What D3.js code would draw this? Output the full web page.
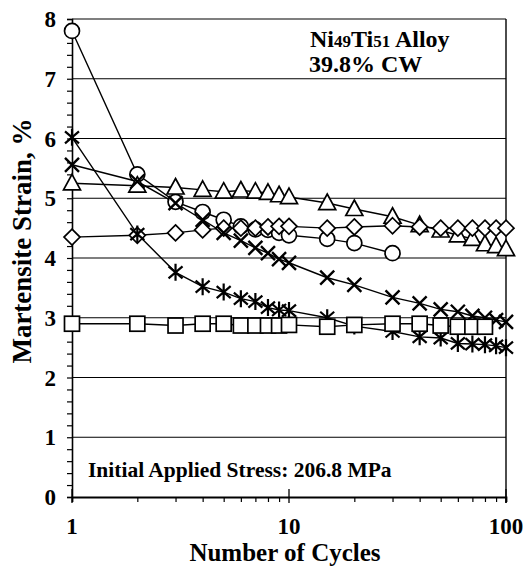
<!DOCTYPE html>
<html><head><meta charset="utf-8">
<script src="https://cdn.jsdelivr.net/npm/d3@7"></script>
<style>body{margin:0;background:#fff}svg{display:block}text{font-family:"Liberation Serif","Times New Roman",serif;font-weight:bold;fill:#000}</style>
</head><body><svg id="c" width="526" height="572"></svg>
<script>
const cycles = [1,2,3,4,5,6,7,8,9,10,15,20,30,40,50,60,70,80,90,100];
const circleCycles = cycles.slice(0,13);
const circleVals = [7.8,5.4,4.94,4.77,4.64,4.53,4.48,4.47,4.42,4.38,4.32,4.25,4.08];
const triangleVals = [5.25,5.21,5.18,5.14,5.11,5.13,5.11,5.09,5.05,5.02,4.92,4.82,4.69,4.55,4.46,4.38,4.32,4.23,4.2,4.15];
const diamondVals = [4.35,4.38,4.42,4.47,4.5,4.5,4.5,4.52,4.53,4.53,4.5,4.52,4.54,4.52,4.5,4.5,4.5,4.5,4.5,4.5];
const crossVals = [5.56,5.28,4.92,4.64,4.42,4.29,4.17,4.08,3.98,3.92,3.67,3.55,3.34,3.24,3.14,3.1,3.03,3.0,2.96,2.93];
const asteriskVals = [6.02,4.4,3.76,3.52,3.43,3.32,3.27,3.17,3.13,3.12,3.0,2.86,2.77,2.68,2.66,2.57,2.56,2.55,2.53,2.5];
const squareCycles = cycles.slice(0,18);
const squareVals = [2.9,2.9,2.87,2.9,2.9,2.87,2.87,2.87,2.87,2.88,2.85,2.88,2.9,2.9,2.87,2.85,2.85,2.85];
const yTicks = [0,1,2,3,4,5,6,7,8];
const xTicks = [1,10,100];

const svg = d3.select("#c");
const x = d3.scaleLog().domain([1,100]).range([72,506]);
const y = d3.scaleLinear().domain([0,8]).range([497,19]);

// gridlines
svg.append("g").selectAll("line").data(yTicks.slice(1)).join("line")
  .attr("x1",x(1)).attr("x2",x(100)).attr("y1",d=>y(d)).attr("y2",d=>y(d))
  .attr("stroke","#000").attr("stroke-width",1.1);

// axes
const yAxis = d3.axisLeft(y).tickValues(d3.range(0,8.01,0.2)).tickSize(5).tickFormat("");
const gy = svg.append("g").attr("transform",`translate(${x(1)},0)`).call(yAxis);
gy.selectAll("line").attr("stroke-width",1.2);
gy.select(".domain").attr("stroke-width",1.6);
svg.append("g").selectAll("text").data(yTicks).join("text")
  .attr("x",56).attr("y",d=>y(d)).attr("dy","0.35em").attr("text-anchor","end")
  .attr("font-size",23).text(d=>d);

const minor = [];
[1,10].forEach(b=>{for(let k=2;k<=9;k++) minor.push(b*k);});
const xAxisMinor = d3.axisBottom(x).tickValues(minor).tickSize(5).tickFormat("");
const gx = svg.append("g").attr("transform",`translate(0,${y(0)})`).call(xAxisMinor);
gx.selectAll("line").attr("stroke-width",1.2);
gx.select(".domain").attr("stroke-width",1.8);
svg.append("g").selectAll("line").data(xTicks).join("line")
  .attr("x1",d=>x(d)).attr("x2",d=>x(d)).attr("y1",y(0)-8).attr("y2",y(0)+6)
  .attr("stroke","#000").attr("stroke-width",1.3);
svg.append("g").selectAll("text").data(xTicks).join("text")
  .attr("x",d=>x(d)).attr("y",534).attr("text-anchor","middle")
  .attr("font-size",23).text(d=>d);
// right border
svg.append("line").attr("x1",x(100)).attr("x2",x(100)).attr("y1",y(8)).attr("y2",y(0)+6)
  .attr("stroke","#000").attr("stroke-width",1.4);

// titles
svg.append("text").attr("x",285).attr("y",561).attr("text-anchor","middle").attr("font-size",25).text("Number of Cycles");
svg.append("text").attr("transform","translate(31,241) rotate(-90)").attr("text-anchor","middle").attr("font-size",27).text("Martensite Strain, %");

const t1 = svg.append("text").attr("x",310).attr("y",47).attr("font-size",24);
t1.append("tspan").text("Ni");
t1.append("tspan").attr("font-size",17).text("49");
t1.append("tspan").text("Ti");
t1.append("tspan").attr("font-size",17).text("51");
t1.append("tspan").text(" Alloy");
svg.append("text").attr("x",309).attr("y",72).attr("font-size",24).text("39.8% CW");
svg.append("text").attr("x",88).attr("y",477).attr("font-size",21.5).text("Initial Applied Stress: 206.8 MPa");

// series
const series = [
  {c:circleCycles, v:circleVals, m:"circle"},
  {c:cycles, v:triangleVals, m:"triangle"},
  {c:cycles, v:diamondVals, m:"diamond"},
  {c:cycles, v:crossVals, m:"cross"},
  {c:cycles, v:asteriskVals, m:"asterisk"},
  {c:squareCycles, v:squareVals, m:"square"}
];
const line = d3.line().x(d=>x(d[0])).y(d=>y(d[1]));
const gl = svg.append("g");
series.forEach(s=>{
  gl.append("path").datum(s.c.map((c,i)=>[c,s.v[i]])).attr("d",line)
    .attr("fill","none").attr("stroke","#000").attr("stroke-width",1.4);
});
const gm = svg.append("g");
function drawMarker(g,m){
  const sw=1.7;
  if(m==="circle") g.append("circle").attr("r",7.5).attr("fill","#fff").attr("stroke","#000").attr("stroke-width",sw);
  if(m==="square") g.append("rect").attr("x",-7.5).attr("y",-7.5).attr("width",15).attr("height",15).attr("fill","#fff").attr("stroke","#000").attr("stroke-width",sw);
  if(m==="triangle") g.append("path").attr("d","M0,-9L8.5,6.5L-8.5,6.5Z").attr("fill","#fff").attr("stroke","#000").attr("stroke-width",sw);
  if(m==="diamond") g.append("path").attr("d","M0,-8L8,0L0,8L-8,0Z").attr("fill","#fff").attr("stroke","#000").attr("stroke-width",sw);
  if(m==="cross") g.append("path").attr("d","M-7,-7L7,7M7,-7L-7,7").attr("stroke","#000").attr("stroke-width",2.4);
  if(m==="asterisk") g.append("path").attr("d","M-7,-6L7,6M7,-6L-7,6M0,-8.5L0,8.5").attr("stroke","#000").attr("stroke-width",2.2);
}
series.forEach(s=>{
  s.c.forEach((c,i)=>{
    const g = gm.append("g").attr("transform",`translate(${x(c)},${y(s.v[i])})`);
    drawMarker(g,s.m);
  });
});
</script></body></html>
